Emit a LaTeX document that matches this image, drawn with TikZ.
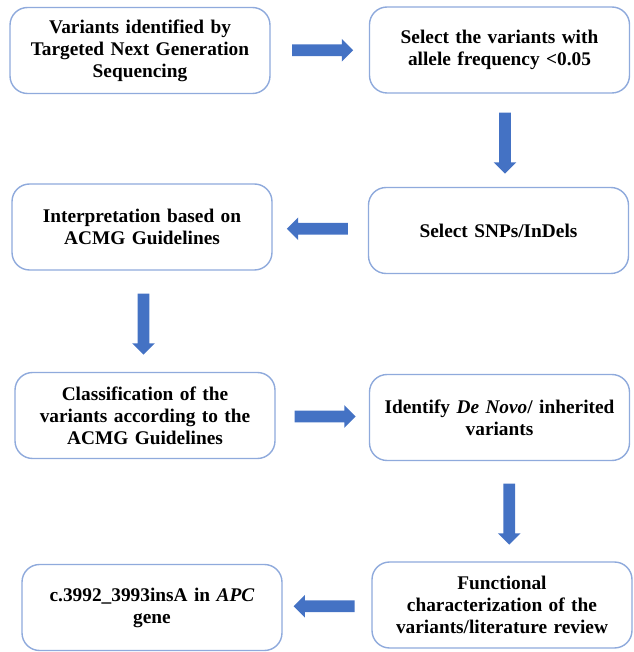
\documentclass[tikz,border=0pt]{standalone}
\usepackage{fontspec}
\setmainfont{Liberation Serif}
\usetikzlibrary{shapes,arrows,positioning,calc}
\definecolor{edgecolor}{RGB}{143,170,220}
\definecolor{arrowcolor}{RGB}{68,114,196}

\begin{document}
\begin{tikzpicture}[
  box/.style={
    draw=edgecolor,
    line width=0.8pt,
    rounded corners=10pt,
    fill=white,
    minimum width=5.2cm,
    minimum height=1.72cm,
    text width=4.9cm,
    align=center,
    font=\fontsize{11}{12.5}\selectfont\bfseries
  },
  blockarrow/.style={
    single arrow,
    fill=arrowcolor,
    draw=none,
    inner xsep=0pt,
    inner ysep=0.11cm,
    minimum height=1.22cm,
    single arrow head extend=0.11cm,
    rotate=#1
  }
]

\useasboundingbox (0,0) rectangle (12.66,13.04);

% Top row
\node[box] (ngs) at (2.80, 12.03)
{Variants identified by\\Targeted Next Generation\\Sequencing};
\node[box] (freq) at (9.99, 12.04)
{Select the variants with\\allele frequency <0.05};

% Second row
\node[box] (acmg) at (2.84, 8.50)
{Interpretation based on\\ACMG Guidelines};
\node[box] (snps) at (9.97, 8.43)
{Select SNPs/InDels};

% Third row
\node[box] (classify) at (2.90, 4.73)
{Classification of the\\variants according to the\\ACMG Guidelines};
\node[box] (denovo) at (9.99, 4.69)
{Identify \textit{De Novo}/ inherited\\variants};

% Bottom row
\node[box] (apc) at (3.04, 0.89)
{c.3992\_3993insA in \textit{APC}\\gene};
\node[box] (func) at (10.04, 0.94)
{Functional\\characterization of the\\variants/literature review};

% Block arrows between the boxes
\node[blockarrow=0] (a1) at ($(ngs.east)!0.5!(freq.west)$) {};
\node[blockarrow=-90] (a2) at ($(freq.south)!0.5!(snps.north)+(0.12,0)$) {};
\node[blockarrow=180] (a3) at ($(acmg.east)!0.5!(snps.west)$) {};
\node[blockarrow=-90] (a4) at ($(acmg.south)!0.5!(classify.north)$) {};
\node[blockarrow=0] (a5) at ($(classify.east)!0.5!(denovo.west)$) {};
\node[blockarrow=-90] (a6) at ($(denovo.south)!0.5!(func.north)+(0.17,0)$) {};
\node[blockarrow=180] (a7) at ($(apc.east)!0.5!(func.west)$) {};

\end{tikzpicture}
\end{document}
